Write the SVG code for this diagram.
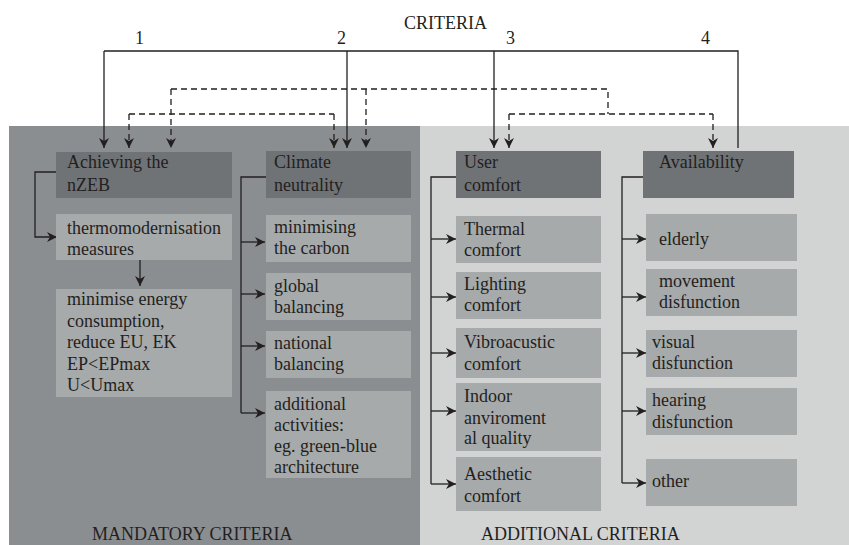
<svg xmlns="http://www.w3.org/2000/svg" width="849" height="545" viewBox="0 0 849 545">
<defs>
<style>
text{font-family:'Liberation Serif','DejaVu Serif',serif;font-size:18px;fill:#231f20}
.hd{fill:#707376}
.bx{fill:#a7aaab}
.ln{fill:none;stroke:#231f20;stroke-width:1.3}
.ds{fill:none;stroke:#231f20;stroke-width:1.3;stroke-dasharray:6 4}
.ar{marker-end:url(#ah)}
</style>
<marker id="ah" viewBox="0 0 10 10" refX="10" refY="5" markerWidth="11" markerHeight="10" markerUnits="userSpaceOnUse" orient="auto">
<path d="M0,0 L10,5 L0,10 L3,5 Z" fill="#231f20"/>
</marker>
</defs>
<rect x="0" y="0" width="849" height="545" fill="#ffffff"/>
<rect id="mandatory-panel" x="9" y="126" width="411" height="419" fill="#8b8e91"/>
<rect id="additional-panel" x="420" y="126" width="429" height="419" fill="#d2d3d3"/>
<g font-family="Liberation Serif, serif">
<text x="404" y="29">CRITERIA</text>
<text x="135" y="44">1</text>
<text x="337" y="44">2</text>
<text x="506" y="44">3</text>
<text x="701" y="44">4</text>
<text x="92" y="540">MANDATORY CRITERIA</text>
<text x="481" y="540">ADDITIONAL CRITERIA</text>
</g>

<g id="connectors">
<path class="ln" d="M738,148 V51 H104"/>
<path class="ln ar" d="M104,51 V148"/>
<path class="ln ar" d="M347,51 V148"/>
<path class="ln ar" d="M494,51 V148"/>
<path class="ds ar" d="M171,89 V148"/>
<path class="ds" d="M171,89 H608 V114"/>
<path class="ds ar" d="M366,89 V148"/>
<path class="ds" d="M129,114 H334"/>
<path class="ds ar" d="M129,114 V148"/>
<path class="ds ar" d="M334,114 V148"/>
<path class="ds" d="M509,114 H713"/>
<path class="ds ar" d="M509,114 V148"/>
<path class="ds ar" d="M713,114 V148"/>
<path class="ln ar" d="M56,172 H35 V237 H57"/>
<path class="ln ar" d="M140,260 V286"/>
<path class="ln" d="M266,177 H241 V413"/>
<path class="ln ar" d="M241,242 H265"/>
<path class="ln ar" d="M241,294 H265"/>
<path class="ln ar" d="M241,346 H265"/>
<path class="ln ar" d="M241,413 H265"/>
<path class="ln" d="M456,177 H431 V484"/>
<path class="ln ar" d="M431,239 H456"/>
<path class="ln ar" d="M431,297 H456"/>
<path class="ln ar" d="M431,353 H456"/>
<path class="ln ar" d="M431,411 H456"/>
<path class="ln ar" d="M431,484 H456"/>
<path class="ln" d="M643,177 H622 V483"/>
<path class="ln ar" d="M622,239 H646"/>
<path class="ln ar" d="M622,297 H646"/>
<path class="ln ar" d="M622,353 H646"/>
<path class="ln ar" d="M622,411 H646"/>
<path class="ln ar" d="M622,483 H646"/>
</g>

<g id="nzeb"><rect class="hd" x="56" y="152" width="176" height="46"/><text x="67" y="168">Achieving the</text><text x="67" y="191">nZEB</text></g>
<g id="thermo"><rect class="bx" x="56" y="214" width="176" height="46"/><text x="67" y="234">thermomodernisation</text><text x="67" y="255">measures</text></g>
<g id="minimise"><rect class="bx" x="56" y="289" width="176" height="108"/><text x="67" y="305">minimise energy</text><text x="67" y="327">consumption,</text><text x="67" y="348">reduce EU, EK</text><text x="67" y="370">EP&lt;EPmax</text><text x="67" y="391">U&lt;Umax</text></g>

<g id="climate"><rect class="hd" x="266" y="151" width="145" height="47"/><text x="274" y="168">Climate</text><text x="274" y="191">neutrality</text></g>
<g id="carbon"><rect class="bx" x="266" y="215" width="145" height="47"/><text x="274" y="233">minimising</text><text x="274" y="254">the carbon</text></g>
<g id="global"><rect class="bx" x="266" y="273" width="145" height="47"/><text x="274" y="292">global</text><text x="274" y="313">balancing</text></g>
<g id="national"><rect class="bx" x="266" y="331" width="145" height="47"/><text x="274" y="349">national</text><text x="274" y="370">balancing</text></g>
<g id="additional"><rect class="bx" x="266" y="391" width="145" height="87"/><text x="274" y="410">additional</text><text x="274" y="431">activities:</text><text x="274" y="452">eg. green-blue</text><text x="274" y="473">architecture</text></g>

<g id="user"><rect class="hd" x="456" y="151" width="145" height="47"/><text x="464" y="168">User</text><text x="464" y="191">comfort</text></g>
<g id="thermal"><rect class="bx" x="456" y="216" width="145" height="47"/><text x="464" y="235">Thermal</text><text x="464" y="256">comfort</text></g>
<g id="lighting"><rect class="bx" x="456" y="272" width="145" height="47"/><text x="464" y="290">Lighting</text><text x="464" y="311">comfort</text></g>
<g id="vibro"><rect class="bx" x="456" y="328" width="145" height="50"/><text x="464" y="348">Vibroacustic</text><text x="464" y="370">comfort</text></g>
<g id="indoor"><rect class="bx" x="456" y="383" width="145" height="68"/><text x="464" y="402">Indoor</text><text x="464" y="424">anviroment</text><text x="464" y="444">al quality</text></g>
<g id="aesthetic"><rect class="bx" x="456" y="457" width="145" height="54"/><text x="464" y="480">Aesthetic</text><text x="464" y="502">comfort</text></g>

<g id="availability"><rect class="hd" x="643" y="151" width="151" height="47"/><text x="659" y="168">Availability</text></g>
<g id="elderly"><rect class="bx" x="646" y="214" width="151" height="47"/><text x="659" y="245">elderly</text></g>
<g id="movement"><rect class="bx" x="646" y="269" width="151" height="47"/><text x="659" y="287">movement</text><text x="659" y="308">disfunction</text></g>
<g id="visual"><rect class="bx" x="646" y="330" width="151" height="47"/><text x="652" y="348">visual</text><text x="652" y="369">disfunction</text></g>
<g id="hearing"><rect class="bx" x="646" y="388" width="151" height="47"/><text x="652" y="406">hearing</text><text x="652" y="428">disfunction</text></g>
<g id="other"><rect class="bx" x="646" y="459" width="151" height="47"/><text x="652" y="487">other</text></g>
</svg>
